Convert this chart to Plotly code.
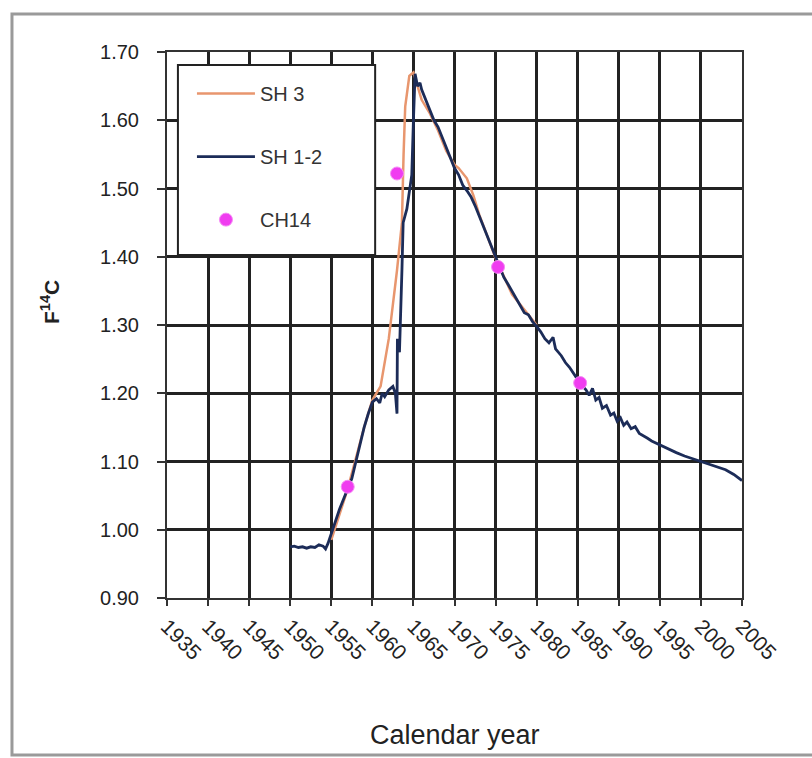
import plotly.graph_objects as go

# ---------------- data ----------------
sh12_year = [1950.0, 1950.5, 1951.0, 1951.5, 1952.0, 1952.5, 1953.0, 1953.5, 1954.0, 1954.3,
             1954.6, 1955.0, 1955.5, 1956.0, 1956.5, 1957.0, 1957.5, 1958.0, 1958.5, 1959.0,
             1959.5, 1960.0, 1960.5, 1960.9, 1961.2, 1961.5, 1962.0, 1962.5, 1962.8, 1963.0,
             1963.05, 1963.3, 1963.6, 1963.75, 1964.2, 1964.8, 1965.0, 1965.2, 1965.5, 1965.8,
             1966.0, 1966.5, 1967.0, 1967.5, 1968.0, 1968.5, 1969.0, 1969.5, 1970.0, 1970.5,
             1971.0, 1971.5, 1972.0, 1972.5, 1973.0, 1973.5, 1974.0, 1974.5, 1975.0, 1975.5,
             1976.0, 1976.5, 1977.0, 1977.5, 1978.0, 1978.5, 1979.0, 1979.5, 1980.0, 1980.5,
             1981.0, 1981.5, 1982.0, 1982.3, 1983.0, 1983.5, 1984.0, 1984.5, 1985.0, 1985.5,
             1986.0, 1986.4, 1986.8, 1987.2, 1987.6, 1988.0, 1988.5, 1989.0, 1989.4, 1989.8,
             1990.2, 1990.6, 1991.0, 1991.5, 1992.0, 1992.5, 1993.0, 1993.5, 1994.0, 1995.0,
             1996.0, 1997.0, 1998.0, 1999.0, 2000.0, 2001.0, 2002.0, 2003.0, 2004.0, 2005.0]
sh12_f14c = [0.975, 0.976, 0.974, 0.975, 0.973, 0.975, 0.974, 0.978, 0.976, 0.972,
             0.980, 0.995, 1.012, 1.030, 1.045, 1.060, 1.075, 1.100, 1.125, 1.150,
             1.170, 1.187, 1.192, 1.186, 1.200, 1.195, 1.205, 1.210, 1.200, 1.170,
             1.280, 1.260, 1.380, 1.450, 1.470, 1.520, 1.600, 1.668, 1.650, 1.655,
             1.645, 1.630, 1.615, 1.600, 1.590, 1.575, 1.560, 1.545, 1.530, 1.520,
             1.505, 1.497, 1.488, 1.475, 1.460, 1.445, 1.430, 1.415, 1.400, 1.385,
             1.370, 1.360, 1.350, 1.338, 1.330, 1.318, 1.315, 1.305, 1.298, 1.290,
             1.280, 1.274, 1.282, 1.265, 1.255, 1.245, 1.238, 1.228, 1.220, 1.212,
             1.205, 1.197, 1.207, 1.190, 1.194, 1.178, 1.182, 1.168, 1.171, 1.159,
             1.164, 1.153, 1.158, 1.148, 1.151, 1.141, 1.138, 1.134, 1.130, 1.124,
             1.118, 1.113, 1.108, 1.104, 1.100, 1.097, 1.093, 1.088, 1.081, 1.072]

sh3_year = [1955.0, 1957.0, 1959.0, 1960.0, 1961.0, 1962.0, 1963.0, 1963.6, 1963.8, 1964.0,
            1964.5, 1965.0, 1965.5, 1966.0, 1967.0, 1968.0, 1969.0, 1970.0, 1970.5, 1971.5,
            1972.3, 1973.0, 1974.0, 1975.0, 1977.0, 1980.0]
sh3_f14c = [0.985, 1.060, 1.150, 1.190, 1.210, 1.280, 1.380, 1.450, 1.550, 1.620,
            1.665, 1.670, 1.650, 1.630, 1.610, 1.585, 1.555, 1.535, 1.530, 1.515,
            1.490, 1.462, 1.430, 1.398, 1.345, 1.300]

ch14_year = [1957.0, 1963.0, 1975.3, 1985.3]
ch14_f14c = [1.063, 1.522, 1.385, 1.215]

x_ticks = list(range(1935, 2006, 5))
y_ticks = [0.90, 1.00, 1.10, 1.20, 1.30, 1.40, 1.50, 1.60, 1.70]

FONT = "Liberation Sans, Arial, sans-serif"
TXT = "#222222"
GRID = "#222222"

fig = go.Figure()
fig.add_trace(go.Scatter(x=sh3_year, y=sh3_f14c, mode="lines", name="SH 3",
                         legendgroup="a", line=dict(color="#e8966e", width=2.5)))
fig.add_trace(go.Scatter(x=sh12_year, y=sh12_f14c, mode="lines", name="SH 1-2",
                         legendgroup="b", line=dict(color="#1c2c58", width=2.8)))
fig.add_trace(go.Scatter(x=ch14_year, y=ch14_f14c, mode="markers", name="CH14",
                         legendgroup="c",
                         marker=dict(color="#f03cf0", size=13,
                                     line=dict(color="#f58cf5", width=1))))

fig.update_layout(
    width=812, height=758,
    margin=dict(l=167, r=70, t=52, b=160),
    paper_bgcolor="white", plot_bgcolor="white",
    font=dict(family=FONT, color=TXT, size=20),
    showlegend=True,
    legend=dict(x=0.0434, y=0.9595, xanchor="left", yanchor="top",
                bgcolor="rgba(0,0,0,0)", borderwidth=0,
                font=dict(size=20, color="#333333"),
                itemwidth=58, tracegroupgap=34, traceorder="grouped"),
    xaxis=dict(range=[1935, 2005], tickvals=x_ticks, ticktext=[str(v) for v in x_ticks],
               tickangle=45, showgrid=True, gridcolor=GRID, gridwidth=2.5,
               showline=True, linecolor="#333333", linewidth=2, mirror=True,
               ticks="outside", ticklen=6, tickcolor="#333333", tickwidth=2,
               tickfont=dict(size=21, color=TXT), zeroline=False),
    yaxis=dict(range=[0.90, 1.70], tickvals=y_ticks, ticktext=[f"{v:.2f}" for v in y_ticks],
               showgrid=True, gridcolor=GRID, gridwidth=2.5,
               showline=True, linecolor="#333333", linewidth=2, mirror=True,
               ticks="outside", ticklen=8, tickcolor="#333333", tickwidth=2,
               tickfont=dict(size=20, color=TXT), ticklabelstandoff=14, zeroline=False),
    shapes=[
        # legend box
        dict(type="rect", xref="paper", yref="paper", x0=0.019, x1=0.362, y0=0.628, y1=0.976,
             fillcolor="white", line=dict(color="#222222", width=2), layer="above"),
        # outer frame of the screenshot
        dict(type="rect", xref="paper", yref="paper", x0=-0.2696, x1=1.2, y0=-0.2875, y1=1.0696,
             fillcolor="rgba(0,0,0,0)", line=dict(color="#9a9a9a", width=3), layer="below"),
    ],
    annotations=[
        dict(text="<b>F<sup>14</sup>C</b>", xref="paper", yref="paper", x=-0.2035, y=0.542,
             textangle=-90, showarrow=False, font=dict(size=21, color=TXT, family=FONT),
             xanchor="center", yanchor="middle"),
        dict(text="Calendar year", xref="paper", yref="paper", x=0.5, y=-0.251,
             showarrow=False, font=dict(size=27, color=TXT, family=FONT),
             xanchor="center", yanchor="middle"),
    ],
)

fig.write_html("out.html")
